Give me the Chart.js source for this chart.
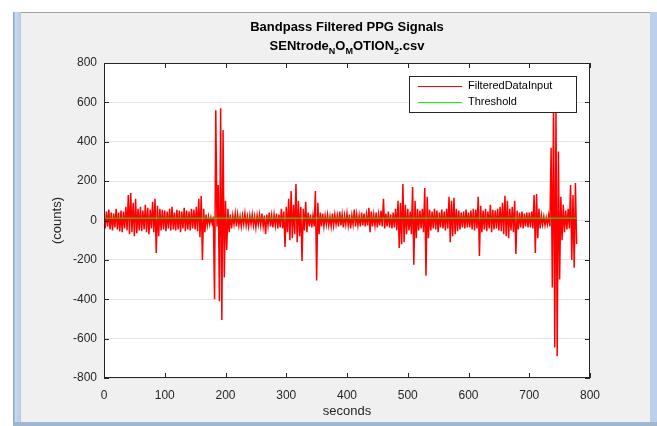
<!DOCTYPE html>
<html>
<head>
<meta charset="utf-8">
<script src="https://cdn.jsdelivr.net/npm/chart.js@4.4.1/dist/chart.umd.min.js"></script>
<style>
  html, body { margin: 0; padding: 0; background: #ffffff; }
  #wrap { width: 657px; height: 426px; position: relative; }
</style>
</head>
<body>
<div id="wrap"><canvas id="ppg"></canvas></div>
<script>
// filtered signal, one value every 2 seconds (0 .. 778 s)
var sampleStep = 2;
var filtered = [
    30,-40,45,-30,55,-45,40,-50,35,-35,
    60,-45,40,-55,50,-60,45,-40,70,-50,
    130,-70,140,-60,90,-80,110,-65,60,-50,
    70,-55,50,-45,80,-60,65,-70,55,-40,
    95,-60,110,-165,75,-80,60,-50,55,-45,
    50,-55,45,-40,60,-50,70,-45,40,-50,
    55,-45,50,-60,45,-40,65,-55,50,-45,
    45,-50,60,-40,55,-45,70,-55,110,-85,
    125,-200,60,-60,30,-25,20,-20,15,-15,
    20,-400,560,-30,180,-410,570,-505,460,-290,
    100,-150,60,-60,30,-40,25,-20,35,-30,
    30,-25,20,-30,25,-20,35,-25,20,-30,
    25,-20,30,-25,20,-35,25,-20,30,-25,
    35,-30,25,-70,30,-25,40,-30,25,-35,
    30,-25,35,-40,30,-35,60,-40,45,-135,
    70,-60,110,-100,150,-90,80,-70,185,-110,
    100,-80,70,-205,60,-50,95,-60,40,-30,
    30,-35,25,-30,150,-305,90,-70,40,-30,
    35,-30,25,-20,30,-25,20,-30,35,-25,
    30,-20,25,-30,45,-25,30,-35,25,-20,
    35,-25,30,-40,25,-20,55,-30,30,-25,
    25,-30,40,-25,35,-30,30,-25,65,-60,
    45,-30,30,-25,40,-35,30,-25,50,-30,
    110,-40,35,-30,45,-35,30,-40,40,-35,
    60,-50,100,-140,90,-120,185,-110,80,-70,
    60,-50,45,-70,170,-225,100,-90,60,-50,
    50,-40,60,-60,165,-280,120,-90,55,-50,
    45,-40,60,-45,50,-60,40,-35,55,-40,
    45,-50,60,-40,120,-110,100,-80,115,-70,
    60,-55,50,-45,40,-35,45,-40,55,-35,
    40,-35,50,-45,60,-50,55,-40,120,-180,
    75,-60,50,-45,60,-55,45,-40,80,-60,
    55,-45,50,-40,60,-50,70,-55,90,-70,
    125,-80,100,-90,60,-50,70,-60,100,-170,
    50,-45,40,-35,45,-40,35,-30,40,-35,
    40,-35,45,-40,130,-165,135,-90,60,-40,
    25,-20,20,-25,15,-20,25,-30,370,-340,
    620,-645,560,-690,350,-300,120,-100,80,-60,
    50,-45,60,-40,180,-200,130,-240,190,-120
];
var thresholdLevel = 12;
var thresholdSpan = [0, 778];
var xTicks = [0, 100, 200, 300, 400, 500, 600, 700, 800];
var yTicks = [-800, -600, -400, -200, 0, 200, 400, 600, 800];
var seriesNames = ["FilteredDataInput", "Threshold"];

var filteredPoints = filtered.map(function(v, i){ return {x: i * sampleStep, y: v}; });
var thresholdPoints = thresholdSpan.map(function(t){ return {x: t, y: thresholdLevel}; });

var axisColor = "#262626";
var fontName = "'Liberation Sans', Arial, sans-serif";

// window frame, titles, box, inward ticks and legend the MATLAB way
var matlabFrame = {
    id: 'matlabFrame',
    beforeDraw: function(chart){
        var c = chart.ctx;
        c.save();
        c.fillStyle = "#ffffff";
        c.fillRect(0, 0, chart.width, chart.height);
        c.fillStyle = "#f0f0f0";
        c.fillRect(13, 12, 644, 412);
        var g = c.createLinearGradient(13, 0, 21, 0);
        g.addColorStop(0, "#7f9db9");
        g.addColorStop(0.3, "#c6d8ee");
        g.addColorStop(1, "#b5cbe6");
        c.fillStyle = g;
        c.fillRect(13, 12, 8, 412);
        c.fillStyle = "#bcd0ea";
        c.fillRect(650, 12, 7, 412);
        c.fillStyle = "#9fb6d3";
        c.fillRect(13, 422, 644, 4);
        c.fillStyle = "#a0a0a0";
        c.fillRect(21, 12, 629, 1);
        var a = chart.chartArea;
        c.fillStyle = "#ffffff";
        c.fillRect(a.left, a.top, a.right - a.left, a.bottom - a.top);
        c.restore();
    },
    afterDraw: function(chart){
        var c = chart.ctx;
        var a = chart.chartArea;
        var xs = chart.scales.x, ys = chart.scales.y;
        c.save();
        // axes box
        c.strokeStyle = axisColor;
        c.lineWidth = 1;
        c.strokeRect(a.left + 0.5, a.top + 0.5, a.right - a.left - 1, a.bottom - a.top - 1);
        c.beginPath();
        xTicks.forEach(function(t){
            var px = Math.round(xs.getPixelForValue(t)) + 0.5;
            c.moveTo(px, a.bottom); c.lineTo(px, a.bottom - 5);
            c.moveTo(px, a.top); c.lineTo(px, a.top + 5);
        });
        yTicks.forEach(function(t){
            var py = Math.round(ys.getPixelForValue(t)) + 0.5;
            c.moveTo(a.left, py); c.lineTo(a.left + 5, py);
            c.moveTo(a.right, py); c.lineTo(a.right - 5, py);
        });
        c.stroke();

        var cx = (a.left + a.right) / 2;
        c.fillStyle = "#000000";
        c.textBaseline = "alphabetic";
        c.textAlign = "center";
        c.font = "bold 13px " + fontName;
        c.fillText("Bandpass Filtered PPG Signals", cx, 31);

        // second title line with subscripts
        var parts = [["SENtrode", 0], ["N", 1], ["O", 0], ["M", 1], ["OTION", 0], ["2", 1], [".csv", 0]];
        var big = "bold 13px " + fontName, small = "bold 9px " + fontName;
        var total = 0;
        parts.forEach(function(p){ c.font = p[1] ? small : big; total += c.measureText(p[0]).width; });
        var x = cx - total / 2;
        c.textAlign = "left";
        parts.forEach(function(p){
            c.font = p[1] ? small : big;
            c.fillText(p[0], x, p[1] ? 54 : 50);
            x += c.measureText(p[0]).width;
        });

        // axis titles
        c.fillStyle = axisColor;
        c.font = "13px " + fontName;
        c.textAlign = "center";
        c.fillText("seconds", cx, 415);
        c.save();
        c.translate(61, (a.top + a.bottom) / 2);
        c.rotate(-Math.PI / 2);
        c.fillText("(counts)", 0, 0);
        c.restore();

        // legend
        var lx = 409, ly = 76, lw = 167, lh = 36;
        c.fillStyle = "#ffffff";
        c.fillRect(lx, ly, lw, lh);
        c.strokeStyle = "#262626";
        c.strokeRect(lx + 0.5, ly + 0.5, lw, lh);
        var colors = ["#ff0000", "#00ff00"];
        c.font = "11px " + fontName;
        c.textBaseline = "middle";
        c.textAlign = "left";
        seriesNames.forEach(function(n, i){
            var yy = ly + 10 + i * 16;
            c.strokeStyle = colors[i];
            c.beginPath();
            c.moveTo(lx + 9, yy + 0.5); c.lineTo(lx + 53, yy + 0.5);
            c.stroke();
            c.fillStyle = "#000000";
            c.fillText(n, lx + 59, yy);
        });
        c.restore();
    }
};

var ctx = document.getElementById("ppg").getContext("2d");
var chart1 = new Chart(ctx, {
    type: 'line',
    data: {
        datasets: [{
            label: seriesNames[0],
            data: filteredPoints,
            borderColor: "#ff0000",
            borderWidth: 1.5,
            pointRadius: 0,
            tension: 0,
            order: 2
        }, {
            label: seriesNames[1],
            data: thresholdPoints,
            borderColor: "#00ff00",
            borderWidth: 1,
            pointRadius: 0,
            tension: 0,
            order: 1
        }]
    },
    options: {
        responsive: true,
        maintainAspectRatio: false,
        animation: false,
        events: [],
        layout: { padding: { left: 0, top: 63, right: 67, bottom: 0 } },
        plugins: { legend: { display: false }, tooltip: { enabled: false } },
        scales: {
            x: {
                type: 'linear', min: 0, max: 800,
                grid: { display: false },
                border: { display: false },
                afterFit: function(s){ s.height = 48; },
                afterBuildTicks: function(s){ s.ticks = xTicks.map(function(v){ return {value: v}; }); },
                ticks: { color: axisColor, font: { family: fontName, size: 12 }, padding: 2, maxRotation: 0 }
            },
            y: {
                min: -800, max: 800,
                grid: { color: "#e3e3e3", drawTicks: false },
                border: { display: false },
                afterFit: function(s){ s.width = 104; },
                afterBuildTicks: function(s){ s.ticks = yTicks.map(function(v){ return {value: v}; }); },
                ticks: { color: axisColor, font: { family: fontName, size: 12 }, padding: 7 }
            }
        }
    },
    plugins: [matlabFrame]
});
</script>
</body>
</html>
